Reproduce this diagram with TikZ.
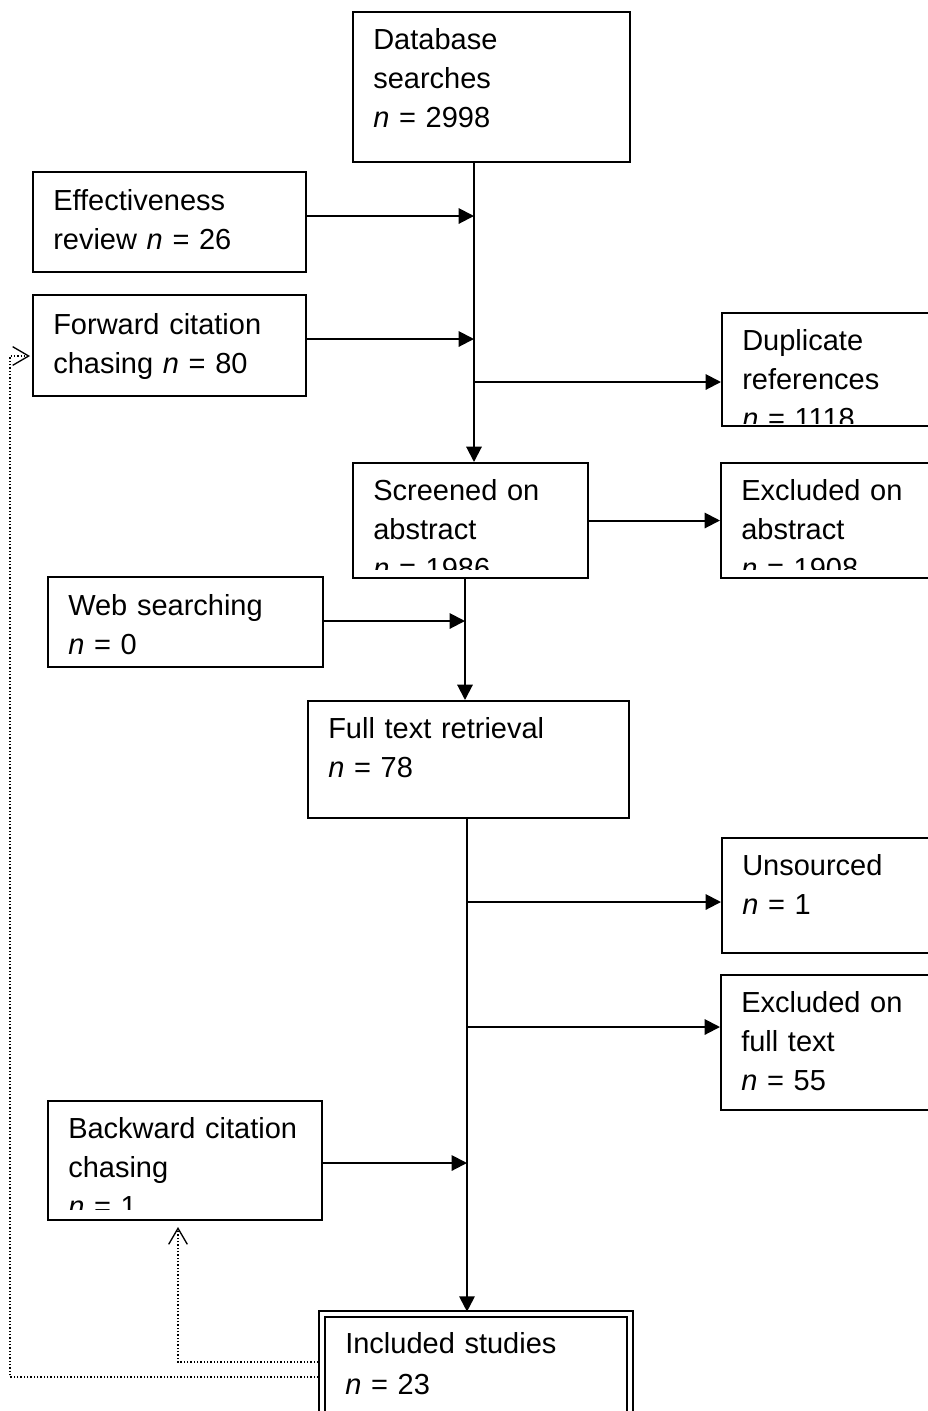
\documentclass[tikz,border=0pt]{standalone}
\usepackage{fontspec}
\setmainfont{Liberation Sans}
\usetikzlibrary{arrows.meta}
\begin{document}
\begin{tikzpicture}[x=0.75pt,y=-0.75pt,
  box/.style={draw, line width=1.5pt, rectangle, inner sep=0pt, anchor=north west},
  lbl/.style={anchor=base west, inner sep=0pt, text width=300pt, align=left,
    font=\fontsize{21.75}{29.25}\selectfont},
  arr/.style={line width=1.5pt, -{Triangle[length=11.5pt,width=11.5pt]}},
  dots/.style={line width=1pt, dash pattern=on 1.1pt off 1.4pt,
    -{Straight Barb[length=12pt,width=14pt,line width=1pt]}}]
\clip (0,0) rectangle (928,1411);
\fill[white] (0,0) rectangle (928,1411);

% boxes
\node[box, minimum width=207.75pt, minimum height=112.5pt] (db) at (352,11) {};
\node[box, minimum width=204.75pt, minimum height=75pt] (eff) at (32,171) {};
\node[box, minimum width=204.75pt, minimum height=75.75pt] (fwd) at (32,294) {};
\node[box, minimum width=164.25pt, minimum height=84.75pt] (dup) at (721,312) {};
\node[box, minimum width=176.25pt, minimum height=86.25pt] (scr) at (352,462) {};
\node[box, minimum width=165pt, minimum height=86.25pt] (exa) at (720,462) {};
\node[box, minimum width=206.25pt, minimum height=67.5pt] (web) at (47,576) {};
\node[box, minimum width=240.75pt, minimum height=87.75pt] (ftr) at (307,700) {};
\node[box, minimum width=164.25pt, minimum height=86.25pt] (uns) at (721,837) {};
\node[box, minimum width=165pt, minimum height=101.25pt] (exf) at (720,974) {};
\node[box, minimum width=205.5pt, minimum height=89.25pt] (bwd) at (47,1100) {};
\node[box, double, double distance=3pt, minimum width=231pt, minimum height=90pt] (inc) at (321,1313) {};

% labels
\node[lbl] (dbt) at (373,49) {Database\\searches\\\textit{n} = 2998};
\node[lbl] (efft) at (53,210) {Effectiveness\\review \textit{n} = 26};
\node[lbl] (fwdt) at (53,334) {Forward citation\\chasing \textit{n} = 80};
\begin{scope}
  \clip (dup.north west) rectangle ([yshift=3pt]dup.south east);
  \node[lbl] (dupt) at (742,350) {Duplicate\\references\\\textit{n} = 1118};
\end{scope}
\begin{scope}
  \clip (scr.north west) rectangle ([yshift=7.5pt]scr.south east);
  \node[lbl] (scrt) at (373,500) {Screened on\\abstract\\\textit{n} = 1986};
\end{scope}
\begin{scope}
  \clip (exa.north west) rectangle ([yshift=7.5pt]exa.south east);
  \node[lbl] (exat) at (741,500) {Excluded on\\abstract\\\textit{n} = 1908};
\end{scope}
\node[lbl] (webt) at (68,615) {Web searching\\\textit{n} = 0};
\node[lbl] (ftrt) at (328,738) {Full text retrieval\\\textit{n} = 78};
\node[lbl] (unst) at (742,875) {Unsourced\\\textit{n} = 1};
\node[lbl] (exft) at (741,1012) {Excluded on\\full text\\\textit{n} = 55};
\begin{scope}
  \clip (bwd.north west) rectangle ([yshift=9pt]bwd.south east);
  \node[lbl] (bwdt) at (68,1138) {Backward citation\\chasing\\\textit{n} = 1};
\end{scope}
\node[lbl, font=\fontsize{21.75}{30.75}\selectfont] (inct) at (345,1353) {Included studies\\\textit{n} = 23};

% junction coordinates
\coordinate (t1) at (474,0);
\coordinate (j1) at (474,216);
\coordinate (j2) at (474,339);
\coordinate (j3) at (474,382);
\coordinate (t2) at (465,0);
\coordinate (j4) at (465,621);
\coordinate (t3) at (467,0);
\coordinate (j5) at (467,902);
\coordinate (j6) at (467,1027);
\coordinate (j7) at (467,1163);

% main flow
\draw[arr] (db.south -| t1) -- (scr.north -| t1);
\draw[arr] (eff.east |- j1) -- (j1);
\draw[arr] (fwd.east |- j2) -- (j2);
\draw[arr] (j3) -- (dup.west |- j3);
\draw[arr] (scr.east) -- (exa.west);
\draw[arr] (scr.south -| t2) -- (ftr.north -| t2);
\draw[arr] (web.east |- j4) -- (j4);
\draw[arr] (ftr.south -| t3) -- ([yshift=1pt]inc.north -| t3);
\draw[arr] (j5) -- (uns.west |- j5);
\draw[arr] (j6) -- (exf.west |- j6);
\draw[arr] (bwd.east |- j7) -- (j7);

% feedback (dotted)
\coordinate (b1) at (178,1362);
\coordinate (b2) at (10,1377);
\coordinate (b3) at (10,356);
\draw[dots, shorten >=4.5pt] ([xshift=-2pt]inc.west |- b1) -- (b1) -- (bwd.south -| b1);
\draw[dots, shorten >=1.5pt] ([xshift=-2pt]inc.west |- b2) -- (b2) -- (b3) -- (fwd.west |- b3);
\end{tikzpicture}
\end{document}
